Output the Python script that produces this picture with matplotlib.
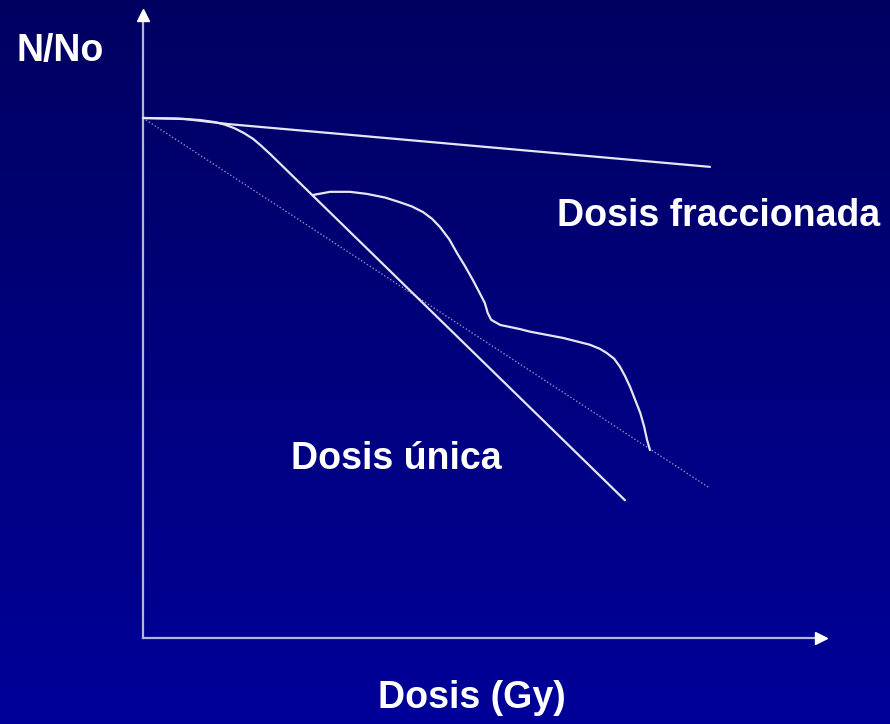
import numpy as np
import matplotlib
matplotlib.use("Agg")
from matplotlib import pyplot as plt

plt.rcParams['font.family'] = ['Liberation Sans', 'DejaVu Sans']

# dose (arbitrary Gy units) vs surviving fraction N/No
frac_dose = [0, 0.74, 1.53, 3.30, 10.0]
frac_surv = [1.0, 0.998, 0.988, 0.971, 0.906]

single_dose = [0, 0.60, 1.01, 1.27, 1.45, 1.62, 1.78, 1.94, 2.08, 2.24, 8.50]
single_surv = [1.0, 0.999, 0.996, 0.992, 0.987, 0.980, 0.971, 0.960, 0.947, 0.931, 0.265]

ref_dose = [0, 10.0]
ref_surv = [1.0, 0.288]

multi_dose = [3.00, 3.30, 3.65, 3.95, 4.27, 4.53, 4.74, 4.94, 5.10, 5.24, 5.40,
              5.54, 5.68, 5.82, 5.94, 6.03, 6.08, 6.14, 6.30, 6.65, 6.83, 7.41,
              7.88, 8.06, 8.18, 8.31, 8.41, 8.50, 8.59, 8.68, 8.77, 8.84, 8.89, 8.94]
multi_surv = [0.852, 0.858, 0.858, 0.854, 0.847, 0.838, 0.830, 0.819, 0.806, 0.790,
              0.767, 0.740, 0.715, 0.688, 0.663, 0.644, 0.625, 0.612, 0.602, 0.594,
              0.589, 0.577, 0.564, 0.556, 0.548, 0.537, 0.522, 0.504, 0.483, 0.458,
              0.433, 0.406, 0.381, 0.362]

fig = plt.figure(figsize=(8.9, 7.24), dpi=100)
ax = fig.add_axes([0, 0, 1, 1])
xmin, xmax = -2.522, 13.175
ymin, ymax = -0.1654, 1.2269
ax.set_xlim(xmin, xmax)
ax.set_ylim(ymin, ymax)
ax.axis('off')

# background gradient
grad = np.linspace(0, 1, 256)[:, None]
top = np.array([0, 0, 0.38])
bot = np.array([0, 0, 0.60])
img = top + (bot - top) * grad[:, :, None]
ax.imshow(img, extent=[xmin, xmax, ymin, ymax], aspect='auto', zorder=0)

# axes with arrows
axis_col = '#b4b4dc'
ax.plot([0, 0], [0, 1.19], color=axis_col, lw=1.6, zorder=2)
ax.plot([0, 11.85], [0, 0], color=axis_col, lw=1.6, zorder=2)
ax.plot([0], [1.198], marker='^', color='white', markersize=9, zorder=3)
ax.plot([11.95], [0], marker='>', color='white', markersize=9, zorder=3)

line_col = '#e6e6f4'
ax.plot(frac_dose, frac_surv, color=line_col, lw=1.6, zorder=4, solid_capstyle='round')
ax.plot(single_dose, single_surv, color=line_col, lw=1.6, zorder=4, solid_capstyle='round')
ax.plot(multi_dose, multi_surv, color=line_col, lw=1.6, zorder=4, solid_joinstyle='round')
ax.plot(ref_dose, ref_surv, color='#8c8ccc', lw=1.0, linestyle=(0, (1, 1.5)), zorder=3)

tk = dict(color='white', fontsize=27, fontweight='bold', va='center')
fig.text(60 / 890, 1 - 51 / 724, 'N/No', ha='center', **tk)
fig.text(557 / 890, 1 - 216 / 724, 'Dosis fraccionada', ha='left', **tk)
fig.text(291 / 890, 1 - 459 / 724, 'Dosis única', ha='left', **tk)
fig.text(472 / 890, 1 - 698 / 724, 'Dosis (Gy)', ha='center', **tk)

fig.savefig('out.png', dpi=100)
